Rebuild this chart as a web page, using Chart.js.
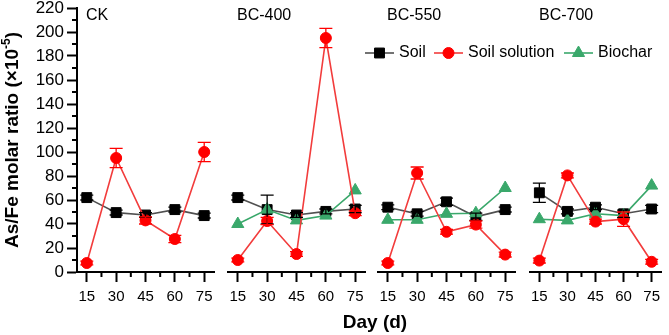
<!DOCTYPE html>
<html><head><meta charset="utf-8">
<script src="https://cdn.jsdelivr.net/npm/chart.js@4/dist/chart.umd.min.js"></script>
<style>
html,body{margin:0;padding:0;background:#fff;}
#wrap{position:relative;width:669px;height:335px;overflow:hidden;}
#wrap canvas{position:absolute;left:0;top:0;}
</style></head><body>
<div id="wrap">
<canvas id="c0" width="669" height="335"></canvas>
<canvas id="c1" width="669" height="335"></canvas>
<canvas id="c2" width="669" height="335"></canvas>
<canvas id="c3" width="669" height="335"></canvas>
</div>
<script>
// ---- data ----
const days = [15, 30, 45, 60, 75];
const panelNames = ['CK', 'BC-400', 'BC-550', 'BC-700'];
const yTicks = [0, 20, 40, 60, 80, 100, 120, 140, 160, 180, 200, 220];
const seriesNames = ['Soil', 'Soil solution', 'Biochar'];

const soilCK = [62, 49.5, 47.5, 52, 47];
const soilCKErr = [2, 2, 2, 2, 2];
const solutionCK = [7.5, 95, 43, 27.5, 100];
const solutionCKErr = [1.5, 8, 3, 3, 8];

const soil400 = [62, 52, 47.5, 50.5, 52.5];
const soil400Err = [2, 12, 2, 2, 3];
const solution400 = [10, 42.5, 15, 195, 49];
const solution400Err = [1.5, 3, 2, 8, 2];
const biochar400 = [40, 52, 43, 47, 68];
const biochar400Err = [0, 0, 0, 0, 0];

const soil550 = [54, 48.5, 58.5, 46, 52];
const soil550Err = [2, 2, 3, 3, 2];
const solution550 = [7.5, 82.5, 33.5, 39.5, 14.5];
const solution550Err = [1.5, 5, 2, 3, 2];
const biochar550 = [43.5, 43.5, 48.5, 49, 70];
const biochar550Err = [0, 0, 0, 0, 0];

const soil700 = [66, 50.5, 54, 48.5, 52.5];
const soil700Err = [8, 2, 2, 3, 3];
const solution700 = [9.5, 80.5, 42, 44, 8.5];
const solution700Err = [2, 2, 2, 6, 2];
const biochar700 = [44, 43, 48.5, 47, 72];
const biochar700Err = [0, 0, 0, 0, 0];

const panels = [
  {soil: soilCK, soilErr: soilCKErr, sol: solutionCK, solErr: solutionCKErr, bio: null, bioErr: null},
  {soil: soil400, soilErr: soil400Err, sol: solution400, solErr: solution400Err, bio: biochar400, bioErr: biochar400Err},
  {soil: soil550, soilErr: soil550Err, sol: solution550, solErr: solution550Err, bio: biochar550, bioErr: biochar550Err},
  {soil: soil700, soilErr: soil700Err, sol: solution700, solErr: solution700Err, bio: biochar700, bioErr: biochar700Err}
];

// ---- styling / layout ----
const FONT = "'Liberation Sans', Arial, sans-serif";
const C_SOIL = '#000000', C_SOIL_LINE = '#505050';
const C_SOL = '#ff0000', C_SOL_LINE = '#f23c3c';
const C_BIO = '#3aa86b';
const areaLeft = [77, 228, 378, 530];
const areaWidth = 137;

function pts(vals) { return days.map((d, i) => ({x: d, y: vals[i]})); }

const errorBarPlugin = {
  id: 'errbars',
  afterDatasetsDraw(chart) {
    const ctx = chart.ctx, xs = chart.scales.x, ys = chart.scales.y;
    ctx.save();
    chart.data.datasets.forEach(ds => {
      if (!ds.errors) return;
      ctx.strokeStyle = ds.pointBackgroundColor;
      ctx.lineWidth = 1.3;
      ds.data.forEach((p, i) => {
        const e = ds.errors[i];
        if (!e) return;
        const x = xs.getPixelForValue(p.x);
        const yt = ys.getPixelForValue(p.y + e), yb = ys.getPixelForValue(p.y - e);
        ctx.beginPath();
        ctx.moveTo(x, yt); ctx.lineTo(x, yb);
        ctx.moveTo(x - 6.5, yt); ctx.lineTo(x + 6.5, yt);
        ctx.moveTo(x - 6.5, yb); ctx.lineTo(x + 6.5, yb);
        ctx.stroke();
      });
    });
    ctx.restore();
  }
};

const minorTickPlugin = {
  id: 'minorTicks',
  afterDraw(chart) {
    const ctx = chart.ctx, xs = chart.scales.x, ys = chart.scales.y, a = chart.chartArea;
    ctx.save();
    ctx.strokeStyle = '#000'; ctx.lineWidth = 2;
    ctx.beginPath();
    for (let i = 0; i < days.length - 1; i++) {
      const x = xs.getPixelForValue((days[i] + days[i + 1]) / 2);
      ctx.moveTo(x, a.bottom); ctx.lineTo(x, a.bottom + 5);
    }
    if (chart.options.scales.y.display) {
      for (let i = 0; i < yTicks.length - 1; i++) {
        const y = ys.getPixelForValue((yTicks[i] + yTicks[i + 1]) / 2);
        ctx.moveTo(a.left, y); ctx.lineTo(a.left - 5, y);
      }
    }
    ctx.stroke();
    // panel label
    ctx.fillStyle = '#000';
    ctx.font = '16px ' + FONT;
    ctx.textAlign = 'left'; ctx.textBaseline = 'middle';
    ctx.fillText(chart.options.panelName, a.left + 9, 16);
    ctx.restore();
  }
};

const annotatePlugin = {
  id: 'annot',
  afterDraw(chart) {
    const ctx = chart.ctx;
    const idx = chart.options.panelIndex;
    ctx.save();
    ctx.fillStyle = '#000';
    if (idx === 0) {
      // y-axis title with superscript
      ctx.translate(13, 140);
      ctx.rotate(-Math.PI / 2);
      const f1 = 'bold 19px ' + FONT, f2 = 'bold 12px ' + FONT;
      const t1 = 'As/Fe molar ratio (\u00d710', t2 = '-5', t3 = ')';
      ctx.font = f1; const w1 = ctx.measureText(t1).width, w3 = ctx.measureText(t3).width;
      ctx.font = f2; const w2 = ctx.measureText(t2).width;
      let x = -(w1 + w2 + w3) / 2;
      ctx.textBaseline = 'middle'; ctx.textAlign = 'left';
      ctx.font = f1; ctx.fillText(t1, x, 0); x += w1;
      ctx.font = f2; ctx.fillText(t2, x, -6); x += w2;
      ctx.font = f1; ctx.fillText(t3, x, 0);
    }
    if (idx === 3) {
      // x-axis title
      ctx.font = 'bold 19px ' + FONT;
      ctx.textAlign = 'center'; ctx.textBaseline = 'middle';
      ctx.fillText('Day (d)', 375, 323);
      // legend
      const items = [
        {name: seriesNames[0], line: C_SOIL_LINE, fill: C_SOIL, style: 'rect', r: 7, x0: 365},
        {name: seriesNames[1], line: C_SOL_LINE, fill: C_SOL, style: 'circle', r: 5.5, x0: 434},
        {name: seriesNames[2], line: C_BIO, fill: C_BIO, style: 'triangle', r: 7, x0: 564}
      ];
      const ly = 53;
      ctx.font = '16px ' + FONT;
      ctx.textAlign = 'left';
      items.forEach(it => {
        ctx.strokeStyle = it.line; ctx.lineWidth = 1.6;
        ctx.beginPath(); ctx.moveTo(it.x0, ly); ctx.lineTo(it.x0 + 29, ly); ctx.stroke();
        ctx.fillStyle = it.fill; ctx.strokeStyle = it.fill; ctx.lineWidth = 1;
        Chart.helpers.drawPoint(ctx, {pointStyle: it.style, radius: it.r, borderWidth: 1, rotation: 0}, it.x0 + 14.5, ly);
        ctx.fillStyle = '#000';
        ctx.fillText(it.name, it.x0 + 34, ly);
      });
    }
    ctx.restore();
  }
};

panels.forEach((p, i) => {
  const datasets = [
    {label: seriesNames[0], data: pts(p.soil), errors: p.soilErr, order: 3,
     borderColor: C_SOIL_LINE, borderWidth: 1.6, pointStyle: 'rect', pointRadius: 7,
     pointBackgroundColor: C_SOIL, pointBorderColor: C_SOIL, pointBorderWidth: 1}
  ];
  if (p.bio) {
    datasets.push({label: seriesNames[2], data: pts(p.bio), errors: p.bioErr, order: 2,
      borderColor: C_BIO, borderWidth: 1.6, pointStyle: 'triangle', pointRadius: 7,
      pointBackgroundColor: C_BIO, pointBorderColor: C_BIO, pointBorderWidth: 1});
  }
  datasets.push({label: seriesNames[1], data: pts(p.sol), errors: p.solErr, order: 1,
    borderColor: C_SOL_LINE, borderWidth: 1.6, pointStyle: 'circle', pointRadius: 5.5,
    pointBackgroundColor: C_SOL, pointBorderColor: C_SOL, pointBorderWidth: 1});

  const showY = i === 0;
  new Chart(document.getElementById('c' + i), {
    type: 'line',
    data: {datasets},
    options: {
      responsive: false, animation: false, events: [],
      panelName: panelNames[i], panelIndex: i,
      layout: {padding: {left: showY ? 0 : areaLeft[i], right: 669 - areaLeft[i] - areaWidth, top: 7, bottom: 0}},
      plugins: {legend: {display: false}, tooltip: {enabled: false}, title: {display: false}},
      elements: {line: {tension: 0}},
      scales: {
        x: {
          type: 'linear', min: 10, max: 80,
          afterBuildTicks: s => { s.ticks = days.map(v => ({value: v})); },
          afterFit: s => { s.height = 63; s.paddingLeft = 0; s.paddingRight = 0; },
          grid: {drawOnChartArea: false, drawTicks: true, tickLength: 10, tickWidth: 2, tickColor: '#000'},
          border: {display: true, color: '#000', width: 2},
          ticks: {font: {family: FONT, size: 15}, color: '#000', padding: 6, maxRotation: 0, autoSkip: false}
        },
        y: {
          display: showY, min: 0, max: 220,
          afterBuildTicks: s => { s.ticks = yTicks.map(v => ({value: v})); },
          afterFit: s => { s.width = showY ? 77 : 0; s.paddingTop = 0; s.paddingBottom = 0; },
          grid: {drawOnChartArea: false, drawTicks: true, tickLength: 10, tickWidth: 2, tickColor: '#000'},
          border: {display: true, color: '#000', width: 2},
          ticks: {font: {family: FONT, size: 17}, color: '#000', padding: 3}
        }
      }
    },
    plugins: [errorBarPlugin, minorTickPlugin, annotatePlugin]
  });
});
</script>
</body></html>
